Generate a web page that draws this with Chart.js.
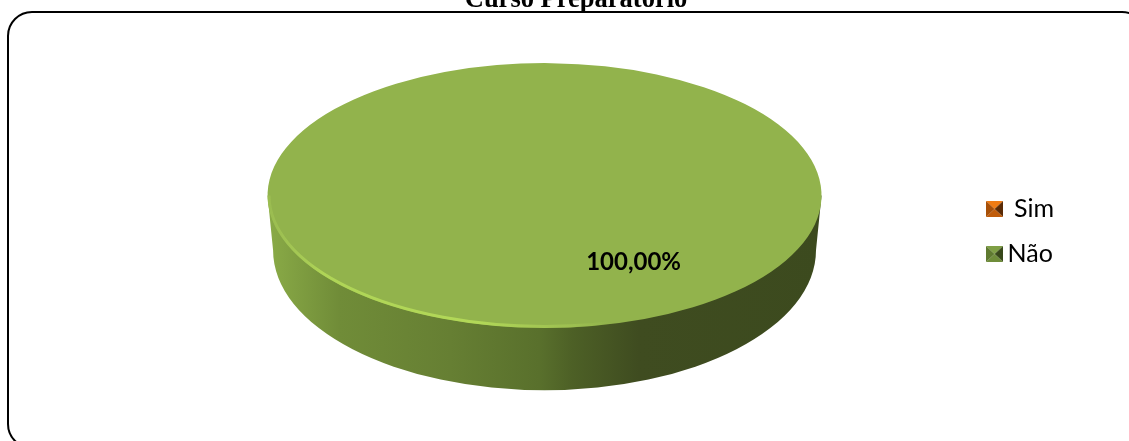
<!DOCTYPE html>
<html><head><meta charset="utf-8">
<script src="https://cdn.jsdelivr.net/npm/chart.js@4"></script>
<style>
html,body{margin:0;padding:0;width:1129px;height:441px;overflow:hidden;background:#fff}
#wrap{position:relative;width:1129px;height:441px;overflow:hidden}
#frame{position:absolute;left:7px;top:11px;width:1140px;height:438px;border:2px solid #000;border-radius:25px;box-sizing:border-box}
canvas{position:absolute;left:0;top:0}
</style></head><body>
<div id="wrap"><div id="frame"></div><canvas id="c" width="1129" height="441"></canvas></div>
<script>
const categories = ['Sim', 'Não'];
const percentages = [0, 100];
const percentText = '100,00%';
const chartTitle = 'Curso Preparatório';
const topColors = ['#e46c0a', '#92b34c'];
const swatchSides = [
  ['#f07c14', '#a85008', '#5a2a05', '#c05c0a'],
  ['#7f9f45', '#5f7a30', '#38481a', '#6f8d3a']
];

function swatch(s) {
  const w = 17, h = 16;
  const cv = document.createElement('canvas');
  cv.width = w; cv.height = h;
  const x = cv.getContext('2d');
  const pts = [[0,0],[w,0],[w,h],[0,h]];
  const mid = [w/2, h/2];
  [[0,1],[1,2],[2,3],[3,0]].forEach(([a,c], k) => {
    x.beginPath(); x.moveTo(...pts[a]); x.lineTo(...pts[c]); x.lineTo(...mid); x.closePath();
    x.fillStyle = s[[0,2,3,1][k]]; x.fill();
  });
  return cv;
}

const TILT = 0.478, LIFT = 36;

const pie3d = {
  id: 'pie3d',
  beforeDatasetsDraw(chart) {
    const ctx = chart.ctx;
    const arc = chart.getDatasetMeta(0).data[1];
    const cx = arc.x, r = arc.outerRadius, cy = arc.y - LIFT;
    const bRx = r * 0.98, bRy = r * 0.505, bCy = cy + r * 0.198;
    const g = ctx.createLinearGradient(cx - r, 0, cx + r, 0);
    g.addColorStop(0, '#8aab47');
    g.addColorStop(0.13, '#708c38');
    g.addColorStop(0.33, '#667f33');
    g.addColorStop(0.49, '#59702c');
    g.addColorStop(0.55, '#4d6026');
    g.addColorStop(0.67, '#3f4c20');
    g.addColorStop(1, '#3c4a1e');
    ctx.save();
    ctx.beginPath();
    ctx.moveTo(cx - r, cy);
    ctx.lineTo(cx - bRx, bCy);
    ctx.ellipse(cx, bCy, bRx, bRy, 0, Math.PI, 0, true);
    ctx.lineTo(cx + r, cy);
    ctx.closePath();
    ctx.fillStyle = g;
    ctx.fill();
    ctx.restore();

    ctx.save();
    ctx.translate(0, -LIFT);
    ctx.translate(0, arc.y);
    ctx.scale(1, TILT);
    ctx.translate(0, -arc.y);
  },
  afterDatasetsDraw(chart) {
    const ctx = chart.ctx;
    ctx.restore();
    const arc = chart.getDatasetMeta(0).data[1];
    const cx = arc.x, r = arc.outerRadius, cy = arc.y - LIFT, ry = r * TILT;
    const rim = ctx.createLinearGradient(cx - r, 0, cx + r, 0);
    rim.addColorStop(0, 'rgba(170,205,90,0.35)');
    rim.addColorStop(0.1, 'rgba(178,216,88,0.9)');
    rim.addColorStop(0.38, 'rgba(178,216,88,1)');
    rim.addColorStop(0.55, 'rgba(165,200,85,0.6)');
    rim.addColorStop(0.62, 'rgba(165,200,85,0)');
    rim.addColorStop(1, 'rgba(165,200,85,0)');
    ctx.save();
    ctx.filter = 'blur(0.7px)';
    ctx.beginPath();
    ctx.ellipse(cx, cy, r - 1.5, ry - 1.5, 0, Math.PI, 0, true);
    ctx.strokeStyle = rim;
    ctx.lineWidth = 3;
    ctx.stroke();
    ctx.filter = 'none';
    const mid = (arc.startAngle + arc.endAngle) / 2;
    ctx.font = 'bold 24px Lato';
    ctx.fillStyle = '#000';
    ctx.textAlign = 'center';
    ctx.textBaseline = 'middle';
    ctx.fillText(percentText, cx + Math.cos(mid) * r * 0.6, cy + Math.sin(mid) * r * 0.6 * TILT);
    ctx.font = 'bold 26.5px "Liberation Serif"';
    ctx.textBaseline = 'alphabetic';
    ctx.fillText(chartTitle, 576, 7);
    ctx.restore();
  }
};

new Chart(document.getElementById('c'), {
  type: 'pie',
  data: {
    labels: categories,
    datasets: [{
      data: percentages,
      backgroundColor: topColors,
      borderWidth: 0,
      radius: 277,
      rotation: -32.4
    }]
  },
  plugins: [pie3d],
  options: {
    responsive: false,
    animation: false,
    layout: { padding: { top: 22, left: 115, right: 65 } },
    plugins: {
      tooltip: { enabled: false },
      title: { display: false },
      legend: {
        position: 'right',
        align: 'center',
        labels: {
          usePointStyle: true,
          pointStyleWidth: 1,
          padding: 20,
          color: '#000',
          font: { family: 'Lato', size: 25 },
          generateLabels() {
            return categories.map((c, i) => ({
              text: i === 0 ? '\u00a0' + c : c,
              pointStyle: swatch(swatchSides[i]),
              fillStyle: topColors[i],
              strokeStyle: 'transparent',
              lineWidth: 0,
              datasetIndex: 0,
              index: i
            }));
          }
        }
      }
    }
  }
});
</script></body></html>
